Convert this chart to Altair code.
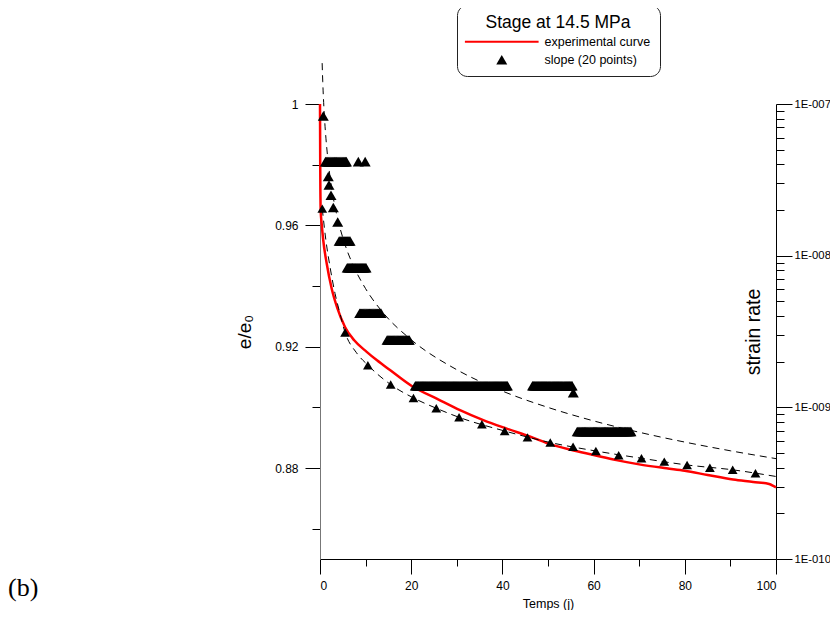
import altair as alt
import pandas as pd

# ---------------- data ----------------
# experimental curve  (time in days, e/e0, left axis)
exp_t = [0, 0.05, 0.15, 0.37, 0.72, 1.47, 2.57, 3.8, 5.48, 7.5, 10.24, 12.5, 15.35,
         20.46, 25.59, 30.7, 35.81, 40.94, 46.0, 50.8, 55.0, 60.0, 65.0, 70.0, 76.0,
         80.0, 85.0, 90.6, 95.0, 98.5, 99.5, 100]
exp_e = [1.0, 0.98, 0.9649, 0.9605, 0.955, 0.9474, 0.9391, 0.9327, 0.9265, 0.9221,
         0.9183, 0.9155, 0.9123, 0.9067, 0.9029, 0.8991, 0.8958, 0.8930, 0.8904,
         0.8877, 0.8860, 0.8843, 0.8826, 0.8812, 0.8799, 0.8791, 0.8777, 0.8762,
         0.8754, 0.8747, 0.8740, 0.8736]

# 20 computed points (left axis)
pts_t = [0.5, 5.5, 10.5, 15.5, 20.5, 25.5, 30.5, 35.5, 40.5, 45.5, 50.5, 55.5,
         60.5, 65.5, 70.5, 75.5, 80.5, 85.5, 90.5, 95.5]
pts_e = [0.9655, 0.9247, 0.9139, 0.9075, 0.9031, 0.8997, 0.8967, 0.8944, 0.8922,
         0.8901, 0.8884, 0.8870, 0.8856, 0.8842, 0.8832, 0.8821, 0.8810, 0.8801,
         0.8794, 0.8783]

# lower dashed curve (left axis)
low_t = [0.5, 1.3, 2.2, 3.3, 4.2, 5.5, 8.0, 10.5, 15.5, 20.5, 25.5, 30.5, 40.5,
         50.5, 60.5, 70.5, 80.5, 90.5, 100]
low_e = [0.9655, 0.955, 0.9463, 0.9375, 0.932, 0.9247, 0.918, 0.9139, 0.9075,
         0.9031, 0.8997, 0.8967, 0.8922, 0.8884, 0.8856, 0.8832, 0.8810, 0.8794,
         0.8772]

# upper dashed curve (strain rate, right axis)
up_t = [0.47, 0.6, 0.8, 1.0, 1.3, 1.7, 2.2, 3.0, 4.0, 5.5, 7.5, 10, 14, 20, 30, 40,
        50, 60, 70, 80, 90, 100]
up_rate = [1.86e-7, 1.415e-7, 1.025e-7, 7.98e-8, 5.95e-8, 4.41e-8, 3.30e-8, 2.33e-8,
           1.69e-8, 1.18e-8, 8.36e-9, 6.06e-9, 4.15e-9, 2.79e-9, 1.77e-9, 1.28e-9,
           9.99e-10, 8.14e-10, 6.85e-10, 5.90e-10, 5.17e-10, 4.59e-10]

# slope (20 points): isolated triangles
slope_t = [0.72, 1.82, 1.97, 2.41, 2.92, 3.88, 8.4, 9.9, 55.55]
slope_rate = [8.33e-8, 3.33e-8, 2.92e-8, 2.5e-8, 2.08e-8, 1.67e-8, 4.17e-8, 4.17e-8,
              1.25e-9]

# slope (20 points): runs of identical values (first day, last day, value)
run_start = [1.2, 4.2, 5.96, 8.7, 14.7, 20.9, 46.6, 56.4]
run_end = [5.8, 6.6, 10.1, 13.4, 19.6, 41.1, 55.3, 68.2]
run_rate = [4.17e-8, 1.25e-8, 8.33e-9, 4.17e-9, 2.78e-9, 1.39e-9, 1.39e-9, 6.94e-10]
run_step = 0.2

x_ticks = [0, 10, 20, 30, 40, 50, 60, 70, 80, 90, 100]
left_ticks = [0.86, 0.88, 0.90, 0.92, 0.94, 0.96, 0.98, 1.0]
right_ticks = [k * 10.0 ** p for p in (-10, -9, -8) for k in range(1, 10)] + [1e-7]
series_names = ["experimental curve", "slope (20 points)"]

# ---------------- tables ----------------
df_exp = pd.DataFrame({"t": exp_t, "v": exp_e})
df_pts = pd.DataFrame({"t": pts_t, "v": pts_e})
df_low = pd.DataFrame({"t": low_t, "v": low_e})
df_up = pd.DataFrame({"t": up_t, "v": up_rate})
rt, rr = list(slope_t), list(slope_rate)
for a, b, r in zip(run_start, run_end, run_rate):
    n = int(round((b - a) / run_step)) + 1
    for i in range(n):
        rt.append(a + (b - a) * i / max(n - 1, 1))
        rr.append(r)
df_slope = pd.DataFrame({"t": rt, "v": rr})

FONT = "Liberation Sans"

x_axis = alt.Axis(
    orient="bottom", values=x_ticks, grid=False,
    labelExpr="datum.value % 20 == 0 ? datum.label : ''",
    tickSize={"condition": {"test": "datum.value % 20 == 0", "value": 15}, "value": 7},
    labelPadding=6, labelFontSize=12, labelFont=FONT, labelColor="black",
    domainColor="black", tickColor="black",
    title="Temps (j)", titleFont=FONT, titleFontSize=12.5, titleFontWeight="normal",
    titleColor="black", titleX=228, titleY=44, titleBaseline="middle",
)
x_enc = alt.X("t:Q", scale=alt.Scale(domain=[0, 100], nice=False, zero=False), axis=x_axis)

left_test = "round(datum.value*100) % 4 == 0"
left_axis = alt.Axis(
    orient="left", values=left_ticks, grid=False,
    labelExpr=f"{left_test} ? format(datum.value, '.2~f') : ''",
    tickSize={"condition": {"test": left_test, "value": 15}, "value": 8},
    labelPadding=7, labelFontSize=12, labelFont=FONT, labelColor="black",
    domainColor="#777777", tickColor="black",
    title="e/e₀", titleFont=FONT, titleFontSize=19, titleFontWeight="normal",
    titleColor="black", titleAngle=270, titleX=-76, titleY=227.5,
    titleAlign="center", titleBaseline="middle",
)
y_left = alt.Y("v:Q", scale=alt.Scale(domain=[0.85, 1.0], nice=False, zero=False), axis=left_axis)

dec_test = "abs(log(datum.value)/LN10 - round(log(datum.value)/LN10)) < 0.001"
right_axis = alt.Axis(
    orient="right", values=right_ticks, grid=False,
    labelExpr=f"{dec_test} ? '1E-0' + format(-round(log(datum.value)/LN10), '02d') : ''",
    tickSize={"condition": {"test": dec_test, "value": 16}, "value": 8},
    labelPadding=2, labelFontSize=11.3, labelFont=FONT, labelColor="black",
    domainColor="black", tickColor="black",
    title="strain rate", titleFont=FONT, titleFontSize=19.5, titleFontWeight="normal",
    titleColor="black", titleAngle=270, titleX=-23, titleY=227.5,
    titleAlign="center", titleBaseline="middle",
)
y_right = alt.Y("v:Q", scale=alt.Scale(type="log", domain=[1e-10, 1e-7], nice=False), axis=right_axis)

red = alt.Chart(df_exp).mark_line(color="#ff0000", strokeWidth=2.5, interpolate="monotone").encode(x=x_enc, y=y_left)
low_line = alt.Chart(df_low).mark_line(color="black", strokeWidth=1, strokeDash=[7, 5], interpolate="monotone").encode(x=x_enc, y=y_left)
low_pts = alt.Chart(df_pts).mark_point(shape="triangle-up", filled=True, color="black", size=95, opacity=1).encode(x=x_enc, y=y_left)
left_group = alt.layer(red, low_line, low_pts)

up_line = alt.Chart(df_up).mark_line(color="black", strokeWidth=1, strokeDash=[7, 5], interpolate="monotone").encode(x=x_enc, y=y_right)
up_pts = alt.Chart(df_slope).mark_point(shape="triangle-up", filled=True, color="black", size=121, opacity=1).encode(x=x_enc, y=y_right)
right_group = alt.layer(up_line, up_pts)

line_path = "M-6.7,-0.19L6.7,-0.19L6.7,0.19L-6.7,0.19Z"
tri_path = "M0,-0.866L-1,0.866L1,0.866Z"
leg = alt.Legend(
    title="Stage at 14.5 MPa", orient="none", legendX=137, legendY=-99,
    titleFont=FONT, titleFontSize=17.5, titleFontWeight="normal", titleColor="black",
    titleAnchor="middle", titlePadding=4,
    labelFont=FONT, labelFontSize=12.5, labelColor="black",
    symbolSize=121, symbolOffset=29.5, labelOffset=36.5, symbolStrokeWidth=0,
    padding=9, rowPadding=5, strokeColor="#222222", cornerRadius=10, fillColor="white",
)
df_leg = pd.DataFrame({"series": series_names})
legend_layer = alt.Chart(df_leg).mark_point(filled=True, opacity=1).encode(
    color=alt.Color("series:N", scale=alt.Scale(domain=series_names, range=["#ff0000", "black"]), legend=leg),
    shape=alt.Shape("series:N", scale=alt.Scale(domain=series_names, range=[line_path, tri_path]), legend=leg),
).transform_filter("false")

df_b = pd.DataFrame({"txt": ["(b)"]})
b_label = alt.Chart(df_b).mark_text(font="Liberation Serif", fontSize=26, align="left",
                                    baseline="middle", color="black").encode(
    text="txt:N", x=alt.value(-312), y=alt.value(484))

chart = alt.layer(left_group, right_group, legend_layer, b_label).resolve_scale(
    y="independent"
).properties(
    width=456, height=455,
    padding={"left": 312, "top": 96, "right": 54, "bottom": 51},
    autosize=alt.AutoSizeParams(type="none"),
).configure_view(stroke=None)

chart.save("out.html", embed_options={"renderer": "svg", "actions": False})
